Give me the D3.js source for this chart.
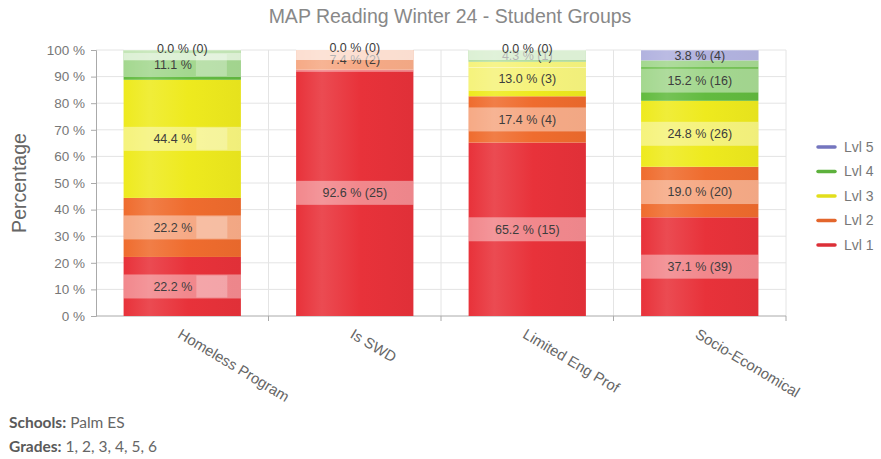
<!DOCTYPE html>
<html><head><meta charset="utf-8">
<script src="https://cdn.jsdelivr.net/npm/d3@7"></script>
<style>
html,body{margin:0;padding:0;background:#fff;}
svg{display:block;}
</style></head>
<body><svg id="chart" width="881" height="459"></svg>
<script>
const title = "MAP Reading Winter 24 - Student Groups";
const categories = ["Homeless Program", "Is SWD", "Limited Eng Prof", "Socio-Economical"];
const levels = ["Lvl 1", "Lvl 2", "Lvl 3", "Lvl 4", "Lvl 5"];
const levelColors = ["#e8323a", "#ef6c2e", "#eeea1e", "#62bb3f", "#7a7bc8"];
const lvl1Pct = [22.2, 92.6, 65.2, 37.1];
const lvl2Pct = [22.2, 7.4, 17.4, 19.0];
const lvl3Pct = [44.4, 0.0, 13.0, 24.8];
const lvl4Pct = [11.1, 0.0, 4.3, 15.2];
const lvl5Pct = [0.0, 0.0, 0.0, 3.8];
const lvl1Count = [2, 25, 15, 39];
const lvl2Count = [2, 2, 4, 20];
const lvl3Count = [4, 0, 3, 26];
const lvl4Count = [1, 0, 1, 16];
const lvl5Count = [0, 0, 0, 4];
const countHidden = [true, false, false, false]; // Homeless Program labels show % only (except Lvl 5)
const yTicks = [0, 10, 20, 30, 40, 50, 60, 70, 80, 90, 100];
const footerLines = [["Schools:", " Palm ES"], ["Grades:", " 1, 2, 3, 4, 5, 6"]];

const pcts = [lvl1Pct, lvl2Pct, lvl3Pct, lvl4Pct, lvl5Pct];
const counts = [lvl1Count, lvl2Count, lvl3Count, lvl4Count, lvl5Count];
const rows = categories.map((c, i) => {
  const r = {category: c};
  levels.forEach((l, j) => { r[l] = pcts[j][i]; });
  return r;
});

const svg = d3.select("#chart");
const margin = {left: 96, right: 95, top: 50, bottom: 143};
const W = 881, H = 459;
const x = d3.scaleBand().domain(categories).range([margin.left, W - margin.right]).paddingInner(0.32).paddingOuter(0.16);
const y = d3.scaleLinear().domain([0, 100]).range([H - margin.bottom, margin.top]);
const color = d3.scaleOrdinal().domain(levels).range(levelColors);

// gradients
const defs = svg.append("defs");
levels.forEach((l, j) => {
  const base = d3.color(levelColors[j]);
  const g = defs.append("linearGradient").attr("id", "grad" + j).attr("x1", "0%").attr("x2", "100%").attr("y1", "0%").attr("y2", "0%");
  g.append("stop").attr("offset", "0%").attr("stop-color", base.formatHex());
  g.append("stop").attr("offset", "22%").attr("stop-color", d3.interpolateRgb(base, "#fff")(0.12));
  g.append("stop").attr("offset", "55%").attr("stop-color", base.formatHex());
  g.append("stop").attr("offset", "100%").attr("stop-color", base.darker(0.1).formatHex());
});

// grid
const gridG = svg.append("g");
gridG.selectAll("line.h").data(yTicks.slice(1)).join("line")
  .attr("x1", margin.left).attr("x2", W - margin.right)
  .attr("y1", d => y(d)).attr("y2", d => y(d))
  .attr("stroke", "#e4e4e4").attr("stroke-width", 1);
const vlines = categories.map((c, i) => x(c) + x.bandwidth() + x.step() * x.paddingInner() / 2);
vlines[vlines.length - 1] = W - margin.right;
gridG.selectAll("line.v").data(vlines).join("line")
  .attr("x1", d => d).attr("x2", d => d)
  .attr("y1", margin.top).attr("y2", y(0))
  .attr("stroke", "#e4e4e4").attr("stroke-width", 1);

// axes
const yAxis = svg.append("g").attr("transform", `translate(${margin.left},0)`)
  .call(d3.axisLeft(y).tickValues(yTicks).tickFormat(d => d + " %").tickSize(5).tickPadding(6));
yAxis.select(".domain").attr("stroke", "#aaa");
yAxis.selectAll(".tick line").attr("stroke", "#aaa");
yAxis.selectAll("text").attr("fill", "#777").style("font-family", "Liberation Sans, Arial, sans-serif").style("font-size", "13.5px");

const xAxisG = svg.append("g").attr("transform", `translate(0,${y(0)})`);
xAxisG.append("line").attr("x1", margin.left).attr("x2", W - margin.right).attr("y1", 0).attr("y2", 0).attr("stroke", "#aaa");
xAxisG.selectAll("line.t").data(vlines).join("line")
  .attr("x1", d => d).attr("x2", d => d).attr("y1", 0).attr("y2", 5).attr("stroke", "#aaa");
xAxisG.selectAll("text").data(categories).join("text")
  .attr("transform", d => `translate(${x(d) + x.bandwidth() / 2},12) rotate(31)`)
  .attr("text-anchor", "start").attr("dy", "0.71em")
  .attr("fill", "#666").style("font-family", "Liberation Sans, Arial, sans-serif").style("font-size", "14.8px")
  .text(d => d);

// stacked bars
const stack = d3.stack().keys(levels);
const series = stack(rows);
const barsG = svg.append("g");
series.forEach((s, j) => {
  barsG.selectAll("rect.s" + j).data(s).join("rect")
    .attr("x", d => x(d.data.category)).attr("width", x.bandwidth())
    .attr("y", d => y(d[1])).attr("height", d => y(d[0]) - y(d[1]))
    .attr("fill", `url(#grad${j})`);
});

// labels
const font = "Liberation Sans, Arial, sans-serif";
const labelsG = svg.append("g");
series.forEach((s, j) => {
  s.forEach((d, i) => {
    const v = pcts[j][i];
    const isTop = j === levels.length - 1;
    if (v === 0 && !isTop) return;
    const cy = y((d[0] + d[1]) / 2) - (v === 0 ? 2 : 0);
    const cx = x(d.data.category) + x.bandwidth() / 2;
    const g = labelsG.append("g");
    g.append("rect").attr("x", x(d.data.category)).attr("width", x.bandwidth())
      .attr("y", cy - 12).attr("height", 24).attr("fill", "#fff").attr("fill-opacity", v === 0 ? 0.62 : 0.42);
    const hide = countHidden[i] && !isTop;
    const t = g.append("text").attr("x", cx).attr("y", cy).attr("dy", "0.35em")
      .attr("text-anchor", "middle").attr("fill", "#3d3d3d")
      .style("font-family", font).style("font-size", "12.5px");
    t.append("tspan").text(v.toFixed(1) + " %");
    const ct = t.append("tspan").text("  (" + counts[j][i] + ")");
    if (hide) {
      ct.attr("fill", "none");
      const tw = t.node().getComputedTextLength();
      const left = cx - tw / 2;
      const pw = t.select("tspan").node().getComputedTextLength();
      g.append("rect").attr("x", left + pw + 4).attr("width", 31)
        .attr("y", cy - 11).attr("height", 22).attr("fill", "#fff").attr("fill-opacity", 0.25);
    }
  });
});

// title
svg.append("text").attr("x", 450).attr("y", 23).attr("text-anchor", "middle")
  .attr("fill", "#888").style("font-family", font).style("font-size", "19.5px").text(title);

// y label
svg.append("text").attr("transform", `translate(26,${(y(0) + y(100)) / 2}) rotate(-90)`)
  .attr("text-anchor", "middle").attr("fill", "#666")
  .style("font-family", font).style("font-size", "19.5px").text("Percentage");

// legend
const legend = svg.append("g").attr("transform", "translate(818,147)");
const legLevels = levels.slice().reverse();
legLevels.forEach((l, k) => {
  const gy = k * 24.5;
  legend.append("line").attr("x1", 0).attr("x2", 17).attr("y1", gy).attr("y2", gy)
    .attr("stroke", d3.color(color(l)).darker(0.15)).attr("stroke-width", 3.5).attr("stroke-linecap", "round");
  legend.append("text").attr("x", 26).attr("y", gy).attr("dy", "0.35em").attr("fill", "#777")
    .style("font-family", font).style("font-size", "14px").text(l);
});

// footer
footerLines.forEach((ln, k) => {
  const t = svg.append("text").attr("x", 9).attr("y", 428 + k * 24)
    .attr("fill", "#666").style("font-family", "Lato, Noto Sans, sans-serif").style("font-size", "15.5px");
  t.append("tspan").attr("font-weight", "bold").attr("fill", "#5a5a5a").text(ln[0]);
  t.append("tspan").text(ln[1]);
});
</script>
</body></html>
